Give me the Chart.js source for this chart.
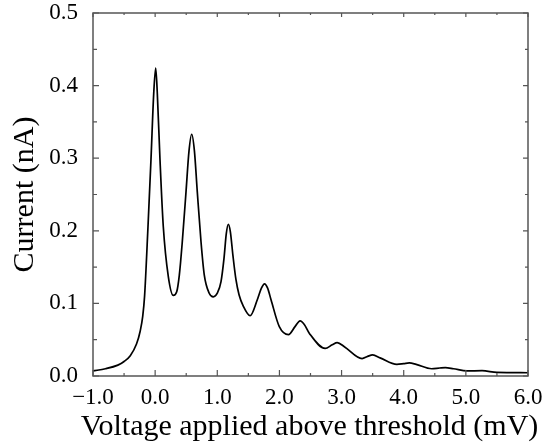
<!DOCTYPE html>
<html>
<head>
<meta charset="utf-8">
<script src="https://cdn.jsdelivr.net/npm/chart.js@4/dist/chart.umd.min.js"></script>
<style>
html,body{margin:0;padding:0;background:#fff;}
#c{display:block;}
</style>
</head>
<body>
<canvas id="c" width="550" height="446"></canvas>
<script>
// Voltage applied above threshold (mV)
const voltage = [-1.0, -0.8, -0.6, -0.5, -0.4, -0.3, -0.24, -0.2, -0.17, -0.115, -0.067, -0.023, 0.009, 0.035, 0.078, 0.131, 0.212, 0.292,
  0.347, 0.389, 0.437, 0.497, 0.545, 0.588, 0.632, 0.678, 0.738, 0.791, 0.87, 0.936, 1.0, 1.06, 1.108, 1.145, 1.177, 1.21, 1.253, 1.30,
  1.35, 1.42, 1.528, 1.644, 1.71, 1.76, 1.81, 1.865, 1.998, 2.145, 2.251, 2.333, 2.40, 2.48, 2.736, 2.85, 2.93, 3.05, 3.33, 3.42, 3.50,
  3.62, 3.89, 4.0, 4.09, 4.2, 4.45, 4.58, 4.67, 4.8, 5.02, 5.26, 5.5, 6.0];
// Current (nA)
const current = [0.007, 0.010, 0.015, 0.020, 0.028, 0.044, 0.062, 0.082, 0.110, 0.206, 0.298, 0.389, 0.424, 0.389, 0.298, 0.206, 0.137, 0.111,
  0.116, 0.139, 0.185, 0.254, 0.310, 0.333, 0.310, 0.254, 0.185, 0.139, 0.114, 0.109, 0.114, 0.130, 0.162, 0.196, 0.209, 0.199, 0.165, 0.133,
  0.112, 0.096, 0.083, 0.105, 0.121, 0.127, 0.121, 0.105, 0.068, 0.057, 0.068, 0.076, 0.071, 0.059, 0.038, 0.043, 0.046, 0.040, 0.024, 0.027, 0.029,
  0.025, 0.016, 0.017, 0.018, 0.016, 0.010, 0.011, 0.0115, 0.010, 0.007, 0.0073, 0.005, 0.0045];
const xTickValues = [-1, 0, 1, 2, 3, 4, 5, 6];
const yTickValues = [0, 0.1, 0.2, 0.3, 0.4, 0.5];
const xTitle = 'Voltage applied above threshold (mV)';
const yTitle = 'Current (nA)';

const points = voltage.map((v, i) => ({x: v, y: current[i]}));
const fmt = v => (v < 0 ? '\u2212' + Math.abs(v).toFixed(1) : v.toFixed(1));
const serif = "'Liberation Serif','Times New Roman',serif";

const framePlugin = {
  id: 'frame',
  afterDraw(chart) {
    const ctx = chart.ctx, a = chart.chartArea;
    const xs = chart.scales.x, ys = chart.scales.y;
    ctx.save();
    ctx.strokeStyle = '#555';
    ctx.lineWidth = 1.5;
    ctx.strokeRect(a.left, a.top, a.right - a.left, a.bottom - a.top);
    ctx.lineWidth = 1.2;
    ctx.beginPath();
    for (let i = 0; i < xTickValues.length; i++) {
      const v = xTickValues[i];
      const px = xs.getPixelForValue(v);
      ctx.moveTo(px, a.bottom); ctx.lineTo(px, a.bottom - 6);
      ctx.moveTo(px, a.top); ctx.lineTo(px, a.top + 4);
      if (i < xTickValues.length - 1) {
        const m = xs.getPixelForValue((v + xTickValues[i + 1]) / 2);
        ctx.moveTo(m, a.bottom); ctx.lineTo(m, a.bottom - 3);
        ctx.moveTo(m, a.top); ctx.lineTo(m, a.top + 2);
      }
    }
    for (let i = 0; i < yTickValues.length; i++) {
      const v = yTickValues[i];
      const py = ys.getPixelForValue(v);
      ctx.moveTo(a.left, py); ctx.lineTo(a.left + 6, py);
      ctx.moveTo(a.right, py); ctx.lineTo(a.right - 5, py);
      if (i < yTickValues.length - 1) {
        const m = ys.getPixelForValue((v + yTickValues[i + 1]) / 2);
        ctx.moveTo(a.left, m); ctx.lineTo(a.left + 4, m);
        ctx.moveTo(a.right, m); ctx.lineTo(a.right - 3, m);
      }
    }
    ctx.stroke();
    // x-axis title (drawn without width compression)
    ctx.fillStyle = '#000';
    ctx.font = '30px ' + serif;
    ctx.textAlign = 'center';
    ctx.textBaseline = 'middle';
    ctx.fillText(xTitle, (a.left + a.right) / 2 - 1, xs.bottom - 19);
    ctx.restore();
  }
};

new Chart(document.getElementById('c'), {
  type: 'line',
  data: {
    datasets: [{
      data: points,
      borderColor: '#000',
      borderWidth: 1.7,
      pointRadius: 0,
      fill: false,
      cubicInterpolationMode: 'monotone'
    }]
  },
  options: {
    responsive: false,
    animation: false,
    devicePixelRatio: 1,
    layout: {padding: {top: 13, right: 22, left: 0, bottom: 0}},
    plugins: {legend: {display: false}, tooltip: {enabled: false}},
    scales: {
      x: {
        type: 'linear', min: -1, max: 6,
        afterBuildTicks: s => { s.ticks = xTickValues.map(v => ({value: v})); },
        afterFit: s => { s.height = 70; s.paddingLeft = 0; s.paddingRight = 0; },
        grid: {display: false, drawTicks: false},
        border: {display: false},
        ticks: {autoSkip: false, maxRotation: 0, padding: 8, color: '#000',
          font: {family: serif, size: 23}, callback: v => fmt(v)},
        title: {display: false, text: xTitle}
      },
      y: {
        type: 'linear', min: 0, max: 0.5,
        afterBuildTicks: s => { s.ticks = yTickValues.map(v => ({value: v})); },
        afterFit: s => { s.width = 93; s.paddingTop = 0; s.paddingBottom = 0; },
        grid: {display: false, drawTicks: false},
        border: {display: false},
        ticks: {autoSkip: false, padding: 15, color: '#000',
          font: {family: serif, size: 23}, callback: v => v.toFixed(1)},
        title: {display: true, text: yTitle, color: '#000', padding: {top: 7, bottom: 0},
          font: {family: serif, size: 30}}
      }
    }
  },
  plugins: [framePlugin]
});
</script>
</body>
</html>
